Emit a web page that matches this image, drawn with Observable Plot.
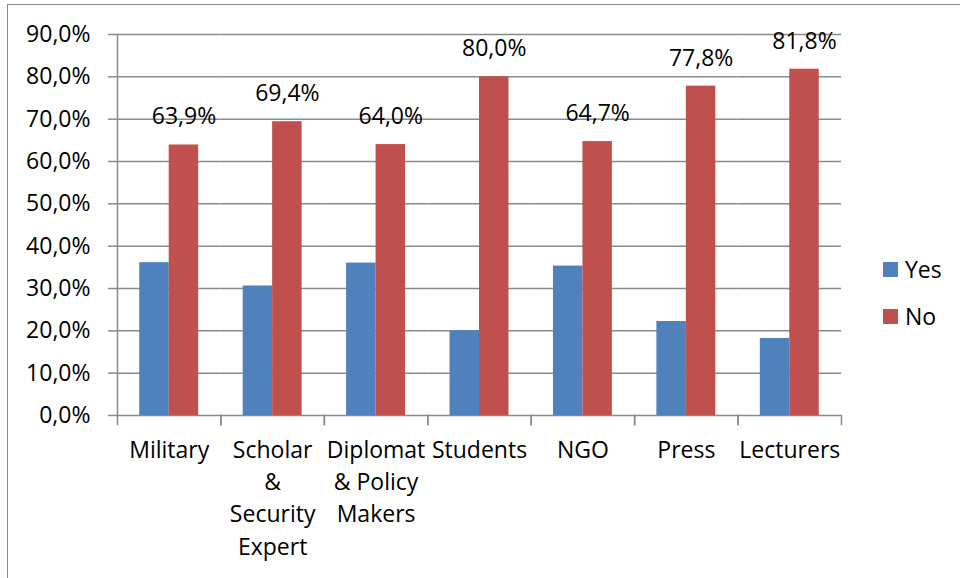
<!DOCTYPE html>
<html>
<head>
<meta charset="utf-8">
<script src="https://cdn.jsdelivr.net/npm/d3@7"></script>
<script src="https://cdn.jsdelivr.net/npm/@observablehq/plot@0.6"></script>
<style>
  html, body { margin: 0; padding: 0; background: #fff; }
  body { width: 960px; height: 578px; position: relative; overflow: hidden; font-family: "Open Sans", sans-serif; }
  #border { position: absolute; left: 7px; top: 4px; width: 1200px; height: 1200px; border-left: 1.5px solid #8a8a8a; border-top: 1.5px solid #8a8a8a; }
  #chart { position: absolute; left: 0; top: 0; }
  #legend { position: absolute; left: 883px; top: 258px; font-size: 23px; color: #000; }
  .item { display: flex; align-items: center; height: 22px; margin-bottom: 25px; }
  .sw { width: 15px; height: 15px; margin-right: 7px; }
</style>
</head>
<body>
<div id="border"></div>
<div id="chart"></div>
<div id="legend"></div>
<script>
const categories = ["Military", "Scholar & Security Expert", "Diplomat & Policy Makers", "Students", "NGO", "Press", "Lecturers"];
const categoryLabels = ["Military", "Scholar\n&\nSecurity\nExpert", "Diplomat\n& Policy\nMakers", "Students", "NGO", "Press", "Lecturers"];
const seriesNames = ["Yes", "No"];
const yesValues = [36.1, 30.6, 36.0, 20.0, 35.3, 22.2, 18.2];
const noValues = [63.9, 69.4, 64.0, 80.0, 64.7, 77.8, 81.8];
const yTicks = [0, 10, 20, 30, 40, 50, 60, 70, 80, 90];
const colors = ["#4F81BD", "#C0504D"];

const data = [];
categories.forEach((c, i) => {
  data.push({category: c, series: "Yes", value: yesValues[i]});
  data.push({category: c, series: "No", value: noValues[i]});
});
const noData = data.filter(d => d.series === "No");
const fmt = v => d3.format(".1f")(v).replace(".", ",") + "%";
const labelOf = c => categoryLabels[categories.indexOf(c)];

const W = 960, H = 578, mt = 34, mb = 163, ml = 117, mr = 119;
const innerH = H - mt - mb;
const gridColor = "#8a8a8a";
const fs = 23;

const chart = Plot.plot({
  width: W, height: H,
  marginTop: mt, marginBottom: mb, marginLeft: ml, marginRight: mr,
  style: {fontFamily: "Open Sans, sans-serif", fontSize: fs + "px", color: "#000", background: "transparent"},
  fx: {domain: categories, padding: 0, round: false, axis: null, label: null},
  x: {domain: seriesNames, paddingInner: 0, paddingOuter: 0.755, round: false, axis: null, label: null},
  y: {domain: [0, 90], axis: null, label: null},
  color: {domain: seriesNames, range: colors},
  marks: [
    Plot.ruleY(yTicks, {stroke: gridColor, strokeWidth: 1.5}),
    Plot.frame({anchor: "left", insetTop: innerH, insetBottom: -9, stroke: gridColor, strokeWidth: 1.5}),
    Plot.frame({anchor: "right", insetTop: innerH, insetBottom: -9, stroke: gridColor, strokeWidth: 1.5}),
    Plot.frame({anchor: "left", facetAnchor: "left", stroke: gridColor, strokeWidth: 1.5}),
    Plot.axisY({ticks: yTicks, tickFormat: fmt, tickSize: 9, tickPadding: 18, stroke: gridColor, strokeWidth: 1.5, fill: "#000", fontSize: fs, label: null}),
    Plot.barY(data, {fx: "category", x: "series", y: "value", fill: "series"}),
    Plot.text(noData, {fx: "category", x: "series", y: "value", text: d => fmt(d.value), dy: -28, fontSize: fs, fill: "#000"}),
    Plot.text(categories, {fx: d => d, text: labelOf, frameAnchor: "bottom", lineAnchor: "top", dy: 19, fontSize: fs, lineHeight: 1.41, fill: "#000"})
  ]
});
document.getElementById("chart").appendChild(chart);

const legend = document.getElementById("legend");
seriesNames.forEach((s, i) => {
  const item = document.createElement("div");
  item.className = "item";
  const sw = document.createElement("div");
  sw.className = "sw";
  sw.style.background = colors[i];
  const t = document.createElement("span");
  t.textContent = s;
  item.appendChild(sw);
  item.appendChild(t);
  legend.appendChild(item);
});
</script>
</body>
</html>
